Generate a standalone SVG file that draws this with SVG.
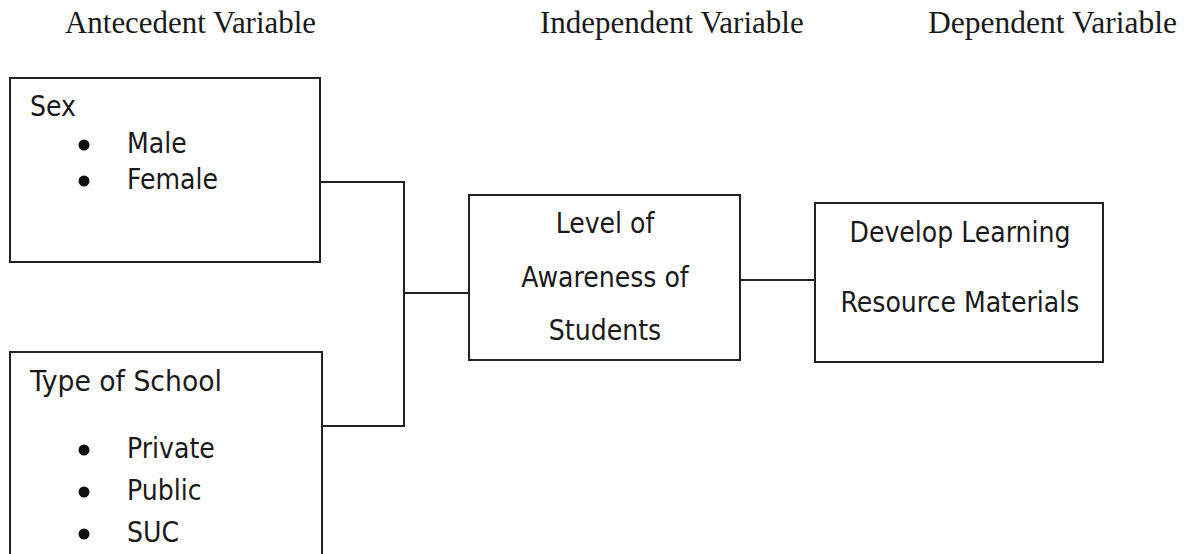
<svg xmlns="http://www.w3.org/2000/svg" width="1185" height="554" viewBox="0 0 1185 554">
<style>
.box{fill:#fff;stroke:#222;stroke-width:2}
.hdr{font-family:"Liberation Serif",serif;font-size:31px;fill:#1a1a1a}
.t{font-family:"DejaVu Sans Condensed","DejaVu Sans",sans-serif;font-stretch:condensed;font-size:28px;fill:#1a1a1a}
.c{text-anchor:middle}
.bul{fill:#111}
.con{fill:none;stroke:#222;stroke-width:2}
</style>
<rect width="1185" height="554" fill="#fff"/>
<g id="headers">
<text class="hdr" x="65" y="33" textLength="251" lengthAdjust="spacingAndGlyphs">Antecedent Variable</text>
<text class="hdr" x="540" y="33">Independent Variable</text>
<text class="hdr" x="928" y="33" textLength="249" lengthAdjust="spacingAndGlyphs">Dependent Variable</text>
</g>
<g id="connectors">
<polyline class="con" points="320,182 404,182 404,426 322,426"/>
<line class="con" x1="404" y1="293" x2="469" y2="293"/>
<line class="con" x1="740" y1="280" x2="815" y2="280"/>
</g>
<g id="sex">
<rect class="box" x="10" y="78" width="310" height="184"/>
<text class="t" x="30" y="116">Sex</text>
<circle class="bul" cx="84" cy="145" r="5.5"/>
<text class="t" x="127" y="153">Male</text>
<circle class="bul" cx="84" cy="181" r="5.5"/>
<text class="t" x="127" y="189">Female</text>
</g>
<g id="school">
<rect class="box" x="10" y="352" width="312" height="220"/>
<text class="t" x="30" y="391" textLength="192" lengthAdjust="spacingAndGlyphs">Type of School</text>
<circle class="bul" cx="84" cy="450" r="5.5"/>
<text class="t" x="127" y="458">Private</text>
<circle class="bul" cx="84" cy="492" r="5.5"/>
<text class="t" x="127" y="500">Public</text>
<circle class="bul" cx="84" cy="534" r="5.5"/>
<text class="t" x="127" y="542">SUC</text>
</g>
<g id="awareness">
<rect class="box" x="469" y="195" width="271" height="165"/>
<text class="t c" x="605" y="233">Level of</text>
<text class="t c" x="605" y="287">Awareness of</text>
<text class="t c" x="605" y="340">Students</text>
</g>
<g id="develop">
<rect class="box" x="815" y="203" width="288" height="159"/>
<text class="t c" x="960" y="242">Develop Learning</text>
<text class="t c" x="960" y="312">Resource Materials</text>
</g>
</svg>
